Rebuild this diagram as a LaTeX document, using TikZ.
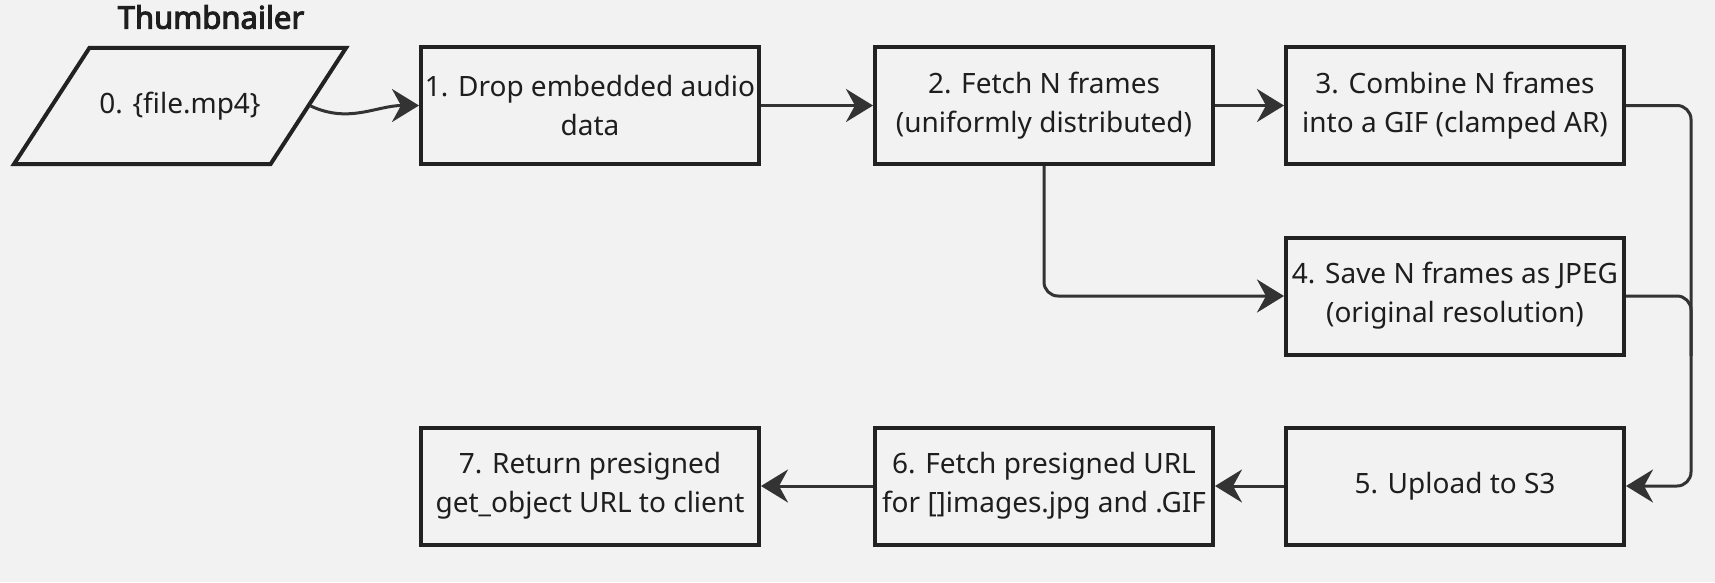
\documentclass[tikz,border=0pt]{standalone}
\usepackage{fontspec}
\setmainfont{Noto Sans}[AutoFakeBold=3.5]
\usetikzlibrary{shapes.geometric, arrows.meta, positioning, calc}
\definecolor{FlowBorder}{HTML}{222222}
\definecolor{FlowLine}{HTML}{333333}
\definecolor{FlowText}{HTML}{1E1E1E}
\definecolor{FlowBack}{HTML}{F2F2F2}
\tikzset{
    % Box styles - all sharp corners
    stepbox/.style={
        rectangle,
        draw=FlowBorder,
        line width=4pt,
        minimum width=338pt,
        minimum height=117pt,
        inner sep=0pt,
        align=center,
        text=FlowText,
        font=\fontsize{28}{39}\selectfont
    },
    inputbox/.style={
        trapezium,
        trapezium left angle=57,
        trapezium right angle=123,
        trapezium stretches body=true,
        draw=FlowBorder,
        line width=4pt,
        minimum width=332pt,
        inner xsep=0pt,
        inner ysep=44pt,
        align=center,
        text=FlowText,
        font=\fontsize{28}{39}\selectfont
    },
    titlelabel/.style={
        text=FlowText,
        font=\bfseries\fontsize{31}{33}\selectfont
    },
    % Arrow styles
    arrow/.style={
        -{Stealth[length=27pt, width=33pt, inset=9pt]},
        line width=3pt,
        draw=FlowLine
    },
    busline/.style={
        line width=3pt,
        draw=FlowLine,
        rounded corners=14pt
    }
}
\begin{document}
\begin{tikzpicture}[x=1pt, y=-1pt]
    \useasboundingbox[fill=FlowBack] (0,0) rectangle (1715,582);

    \node[titlelabel] (title) at (211,17) {Thumbnailer};
    \node[inputbox] (input) at (180,106) {0. \{file.mp4\}};

    \node[stepbox] (drop) at (590,105.5) {1. Drop embedded audio\\data};
    \node[stepbox] (fetch) at (1044,105.5) {2. Fetch N frames\\(uniformly distributed)};
    \node[stepbox] (gif) at (1455,105.5) {3. Combine N frames\\into a GIF (clamped AR)};
    \node[stepbox] (jpeg) at (1455,296) {4. Save N frames as JPEG\\(original resolution)};
    \node[stepbox] (upload) at (1455,486) {5. Upload to S3};
    \node[stepbox] (presign) at (1044,486) {6. Fetch presigned URL\\for []images.jpg and .GIF};
    \node[stepbox] (client) at (590,486) {7. Return presigned\\get\_object URL to client};

    \coordinate (bus) at (1691,105.5);

    \draw[arrow] (input.east) to[out=-25, in=180] (drop.west);
    \draw[arrow] (drop.east) -- (fetch.west);
    \draw[arrow] (fetch.east) -- (gif.west);
    \draw[arrow, rounded corners=14pt] (fetch.south) |- (jpeg.west);

    % merge into S3 upload
    \draw[arrow, rounded corners=14pt] (gif.east) -- (bus) |- (upload.east);
    \draw[busline] (jpeg.east) -- (jpeg.east -| bus) -- ++(0,60);

    \draw[arrow] (upload.west) -- (presign.east);
    \draw[arrow] (presign.west) -- (client.east);
\end{tikzpicture}
\end{document}
